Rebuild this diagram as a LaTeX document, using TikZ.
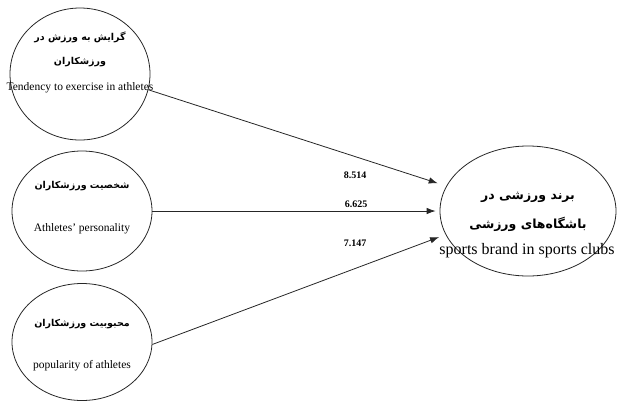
\documentclass[tikz,border=0pt]{standalone}
\usepackage{fontspec}
\setmainfont{Liberation Serif}
\newfontfamily\farsifont[Script=Arabic]{DejaVu Sans}
\TeXXeTstate=1
\usetikzlibrary{arrows.meta,shapes.geometric}

\begin{document}
\begin{tikzpicture}[x=1pt,y=-1pt,
oval/.style={draw=black!85,ellipse,line width=0.8pt,inner sep=0pt},
fa/.style={font=\farsifont\bfseries\fontsize{9.5}{11}\selectfont,align=center},
bigfa/.style={font=\farsifont\bfseries\fontsize{12.5}{14}\selectfont,align=center},
en/.style={font=\fontsize{11.5}{13}\selectfont},
bigen/.style={font=\fontsize{16}{18}\selectfont},
coef/.style={font=\bfseries\fontsize{10}{11}\selectfont},
arr/.style={-{Latex[length=9pt,width=6.5pt]},line width=0.8pt,draw=black!85}
]
\useasboundingbox (0,0) rectangle (624,408);
% latent variables
\node[oval,minimum width=140pt,minimum height=132pt] (trend) at (80,74) {};
\node[oval,minimum width=140pt,minimum height=120pt] (pers) at (82,211) {};
\node[oval,minimum width=140pt,minimum height=117pt] (pop) at (82,342) {};
\node[oval,minimum width=176pt,minimum height=130pt] (brand) at (528,211) {};
% texts
\node[fa] (trendfa) at (80,49) {\beginR گرایش به ورزش در\endR\\[13pt]\beginR ورزشکاران\endR};
\node[en] (trenden) at (80,88) {Tendency to exercise in athletes};
\node[fa] (persfa) at (82,186) {\beginR شخصیت ورزشکاران\endR};
\node[en] (persen) at (82,229) {Athletes' personality};
\node[fa] (popfa) at (82,324) {\beginR محبوبیت ورزشکاران\endR};
\node[en] (popen) at (82,366) {popularity of athletes};
\node[bigfa] (brandfa) at (528,212) {\beginR برند ورزشی در\endR\\[13pt]\beginR باشگاه‌های ورزشی\endR};
\node[bigen] (branden) at (527,251) {sports brand in sports clubs};
% paths
\draw[arr,shorten >=9pt] (trend.-13) -- (brand.163);
\draw[arr,shorten >=4pt] (pers.east) -- (brand.west);
\draw[arr,shorten >=7pt] (pop.-2) -- (brand.196);
\node[coef] (c1) at (355,175) {8.514};
\node[coef] (c2) at (356,204) {6.625};
\node[coef] (c3) at (355,243) {7.147};
\end{tikzpicture}
\end{document}
